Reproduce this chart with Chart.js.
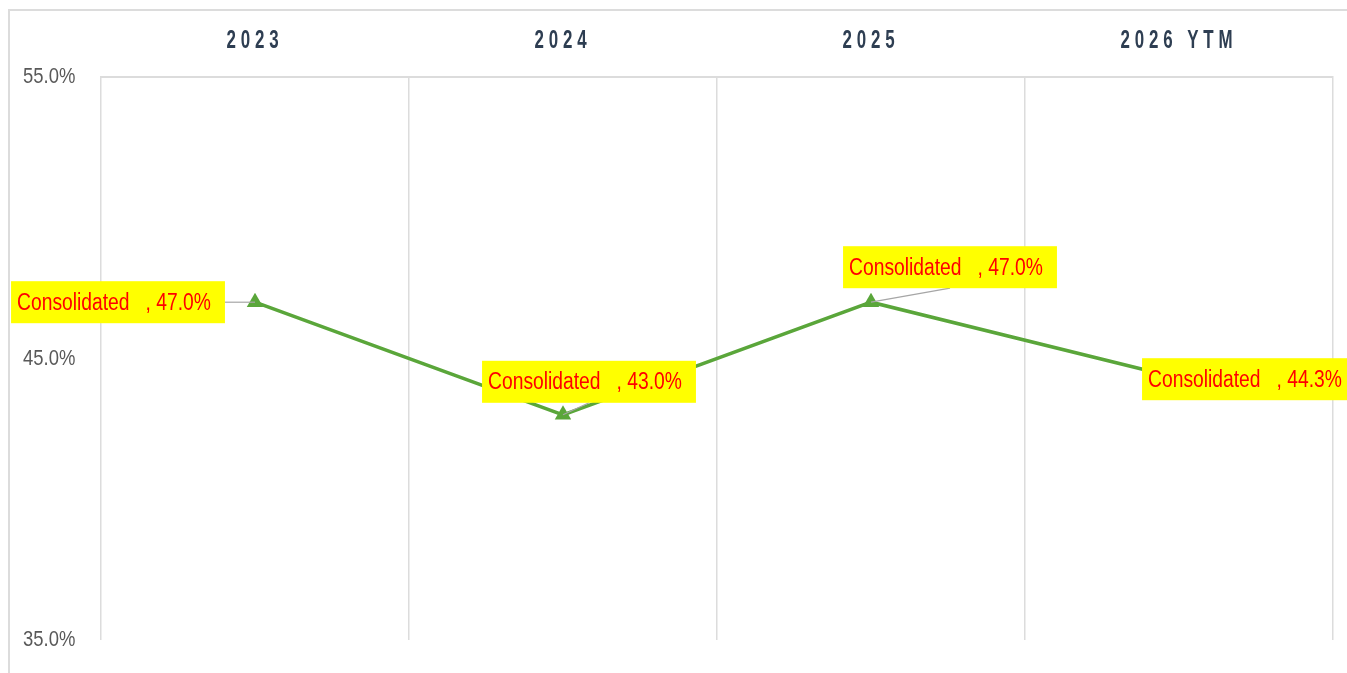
<!DOCTYPE html>
<html>
<head>
<meta charset="utf-8">
<script src="https://cdn.jsdelivr.net/npm/chart.js@4.4.1/dist/chart.umd.min.js"></script>
<style>
  html, body { margin: 0; padding: 0; background: #ffffff; }
  #wrap { position: relative; width: 1347px; height: 673px; overflow: hidden; }
  #frame { position: absolute; left: 8px; top: 9px; width: 1400px; height: 700px;
           border-top: 2px solid #dcdcdc; border-left: 2px solid #dcdcdc; pointer-events: none; }
  canvas { position: absolute; left: 0; top: 0; }
</style>
</head>
<body>
<div id="wrap">
  <canvas id="c" width="1347" height="673"></canvas>
  <div id="frame"></div>
</div>
<script>
const categories = ['2023', '2024', '2025', '2026 YTM'];
const seriesName = 'Consolidated';
const consolidated = [47.0, 43.0, 47.0, 44.3];
const yTicks = [35, 45, 55];
// label box centre offsets from each point (dx, dy)
const labelOffsets = [[-137, 0], [26, -33], [79, -35], [70, 1]];

const FONT = '"Liberation Sans", Arial, sans-serif';
const NARROW_X = 0.82;   // horizontal condensing to mimic Arial Narrow

// Draw a scale's own label items with a horizontal squeeze and letter spacing
function condenseLabels(scale, sx, spacing) {
  if (scale.__patched) return;
  scale.drawLabels = function (chartArea) {
    if (!this.options.ticks.display) return;
    const ctx = this.ctx;
    const items = this.getLabelItems(chartArea);
    for (const item of items) {
      const o = item.options;
      ctx.save();
      ctx.translate(o.translation[0], o.translation[1]);
      if (o.rotation) ctx.rotate(o.rotation);
      ctx.scale(sx, 1);
      ctx.font = item.font.string;
      ctx.fillStyle = o.color;
      ctx.textAlign = o.textAlign;
      ctx.textBaseline = o.textBaseline;
      ctx.letterSpacing = spacing + 'px';
      ctx.fillText(item.label, 0, item.textOffset);
      ctx.restore();
    }
  };
  scale.__patched = true;
}

const labelStyle = {
  id: 'labelStyle',
  beforeDraw(chart) {
    condenseLabels(chart.scales.x, 0.65, 7.5);
    condenseLabels(chart.scales.y, NARROW_X, 0);
  }
};

const callouts = {
  id: 'callouts',
  afterDatasetsDraw(chart) {
    const meta = chart.getDatasetMeta(0);
    const ctx = chart.ctx;
    ctx.save();
    ctx.font = '23.5px ' + FONT;
    meta.data.forEach((pt, i) => {
      const text = seriesName + '   , ' + consolidated[i].toFixed(1) + '%';
      const tw = ctx.measureText(text).width * NARROW_X;
      const w = tw + 20, h = 42;
      const cx = pt.x + labelOffsets[i][0];
      const cy = pt.y + labelOffsets[i][1];
      const l = cx - w / 2, t = cy - h / 2;
      const insideX = pt.x >= l && pt.x <= l + w;
      const insideY = pt.y >= t && pt.y <= t + h;
      if (!(insideX && insideY)) {
        let ex, ey;
        if (insideX) { ex = cx; ey = pt.y > cy ? t + h : t; }
        else { ex = pt.x > cx ? l + w : l; ey = cy; }
        ctx.strokeStyle = '#a6a6a6';
        ctx.lineWidth = 1.2;
        ctx.beginPath();
        ctx.moveTo(pt.x, pt.y);
        ctx.lineTo(ex, ey);
        ctx.stroke();
      }
      ctx.fillStyle = '#ffff00';
      ctx.fillRect(l, t, w, h);
      ctx.save();
      ctx.translate(l + 6, cy + 1);
      ctx.scale(NARROW_X, 1);
      ctx.fillStyle = '#ff0000';
      ctx.textBaseline = 'middle';
      ctx.textAlign = 'left';
      ctx.fillText(text, 0, 0);
      ctx.restore();
    });
    ctx.restore();
  }
};

new Chart(document.getElementById('c'), {
  type: 'line',
  data: {
    labels: categories,
    datasets: [{
      label: seriesName,
      data: consolidated,
      borderColor: '#5aa63a',
      backgroundColor: '#5aa63a',
      borderWidth: 3.5,
      pointStyle: 'triangle',
      pointRadius: 9.5,
      pointBorderWidth: 0,
      pointBackgroundColor: '#5aa63a',
      tension: 0
    }]
  },
  options: {
    responsive: false,
    animation: false,
    events: [],
    layout: { padding: { left: 23, right: 14, top: 0, bottom: 33 } },
    plugins: { legend: { display: false }, tooltip: { enabled: false } },
    scales: {
      x: {
        position: 'top',
        offset: true,
        grid: { display: true, offset: true, drawTicks: false, color: '#dcdcdc', lineWidth: 1.5 },
        border: { display: true, color: '#dcdcdc', width: 2 },
        ticks: { padding: 21, color: '#2e3e52', font: { family: FONT, size: 26, weight: 'bold' } },
        afterFit(s) { s.height = 77; }
      },
      y: {
        min: 35, max: 55,
        afterBuildTicks(s) { s.ticks = yTicks.map(v => ({ value: v })); },
        grid: { display: false },
        border: { display: false },
        ticks: {
          crossAlign: 'far',
          color: '#595959',
          font: { family: FONT, size: 22.5 },
          callback: v => Number(v).toFixed(1) + '%'
        },
        afterFit(s) { s.width = 78; }
      }
    }
  },
  plugins: [labelStyle, callouts]
});
</script>
</body>
</html>
